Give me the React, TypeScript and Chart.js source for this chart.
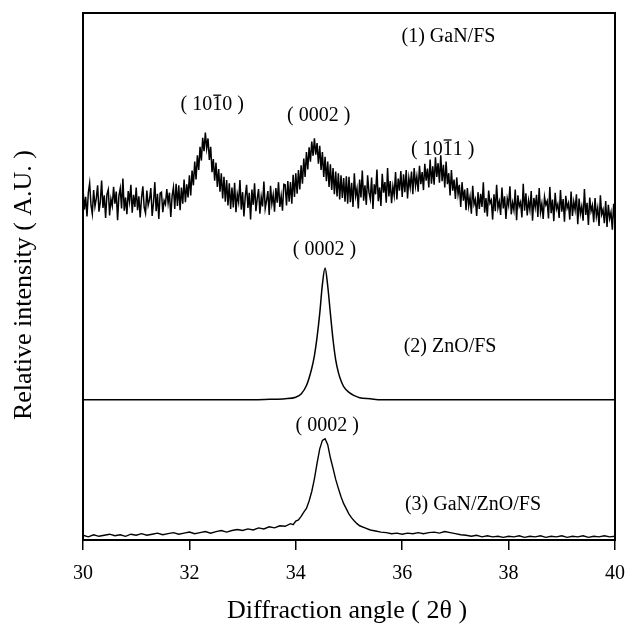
import React, { useEffect, useRef } from "react";
import { Chart, registerables } from "chart.js";

Chart.register(...registerables);

// ---- Data (y in arbitrary units, 0 = bottom of frame, 100 = top) ----
const X_MIN = 30;
const X_MAX = 40;
const xTickStep = 2;

// (1) GaN/FS sampled every 0.025 deg from 30 to 40
const ganStart = 30;
const ganStep = 0.025;
const ganFS = [
  // 30.000 - 31.775
  66.8, 62.7, 65.1, 61.4, 65.9, 67.7, 63.6, 61.9, 66.4, 63.3, 64.8, 67.3, 62.3, 64.1, 68.2, 63.0,
  65.4, 61.1, 65.6, 66.5, 61.6, 64.7, 63.4, 67.0, 63.8, 66.1, 60.7, 65.3, 66.7, 62.9, 68.6, 62.5,
  65.0, 61.8, 66.2, 64.2, 67.4, 62.1, 65.5, 63.2, 66.9, 62.6, 65.2, 61.2, 64.9, 67.1, 63.1, 62.0,
  66.3, 63.5, 64.6, 66.8, 61.5, 64.0, 67.9, 62.4, 65.7, 60.9, 65.8, 66.0, 62.2, 64.4, 63.7, 66.6,
  63.9, 65.9, 61.3, 65.3, 66.9, 62.8, 67.6, 63.4,
  // 31.800 - 32.775 (10-10 peak)
  67.3, 62.6, 66.9, 63.8, 68.4, 64.1, 67.5, 65.0,
  69.2, 65.4, 70.1, 67.3,
  71.8, 68.4, 73.0, 70.2,
  74.6, 72.0, 76.3, 73.8,
  77.3, 74.3, 76.2, 72.1,
  74.6, 69.8, 72.3, 68.2,
  71.6, 67.0, 70.4, 66.1,
  69.6, 64.8, 68.9, 64.2,
  68.3, 63.5, 67.7, 62.8,
  // 32.800 - 33.775
  66.9, 63.1, 67.8, 62.2, 65.6, 64.1, 68.3, 62.7, 66.0, 61.4, 65.2, 67.4, 63.0, 65.9, 60.8, 66.5,
  63.6, 67.7, 62.4, 64.8, 66.6, 61.9, 65.1, 63.3, 68.0, 62.9, 64.4, 66.2, 61.7, 67.2, 63.8, 65.5,
  62.3, 66.8, 64.0, 67.9, 63.2, 65.3, 62.5, 67.5,
  // 33.800 - 34.975 (0002 peak)
  67.4, 63.5, 68.1, 64.2, 67.9, 63.8, 69.3, 65.1,
  69.6, 65.7, 70.2, 66.5, 71.1, 67.6, 72.4, 68.9,
  73.6, 70.3, 74.5, 71.8, 75.6, 72.9, 76.2, 73.1,
  75.3, 71.4, 74.8, 70.2, 73.6, 68.9, 72.7, 68.1,
  71.8, 67.0, 71.3, 66.4, 70.6, 65.6, 69.9, 65.2,
  69.6, 64.6, 69.2, 64.9, 68.7, 64.2, 69.0, 63.8,
  // 35.000 - 35.975
  68.9, 64.1, 67.8, 63.2, 69.6, 65.3, 66.7, 62.9, 68.4, 65.0, 70.1, 64.4, 67.3, 63.6, 69.2, 66.0,
  64.7, 68.8, 62.8, 67.5, 65.6, 70.3, 64.3, 66.9, 63.4, 69.5, 65.9, 67.9, 64.0, 70.6, 65.2, 68.1,
  63.9, 67.1, 65.4, 69.8, 64.6, 68.6, 66.3, 70.0,
  // 36.000 - 37.175 (10-11 hump)
  65.1, 69.4, 66.0, 70.2, 64.8, 68.7, 66.9, 69.9,
  65.6, 70.6, 67.2, 69.0, 66.1, 71.0, 67.5, 69.8,
  66.4, 71.4, 68.2, 70.5, 66.9, 72.2, 67.6, 70.9,
  67.4, 72.6, 68.9, 71.5, 67.8, 73.0, 68.1, 71.2,
  66.9, 71.8, 67.5, 69.6, 65.4, 70.2, 66.3, 68.4,
  64.7, 68.8, 65.6, 67.4, 63.2, 67.9, 64.4, 66.5,
  // 37.200 - 40.000
  62.6, 66.8, 63.4, 65.1, 61.9, 67.2, 63.7, 64.6, 61.5, 66.0, 62.8, 65.7, 63.2, 67.9, 62.1, 64.9,
  61.4, 66.3, 63.9, 64.5, 60.8, 65.6, 62.4, 67.4, 63.0, 64.2, 61.7, 66.9, 62.9, 65.2, 60.9, 64.8,
  63.5, 67.1, 61.8, 64.0, 62.6, 66.5, 60.7, 65.4, 63.3, 64.1, 61.2, 67.6, 62.5, 65.8, 61.6, 64.4,
  62.7, 66.2, 60.6, 64.9, 63.1, 65.5, 61.3, 66.8, 62.2, 63.8, 60.9, 65.1, 63.6, 64.3, 61.0, 67.0,
  62.0, 64.6, 60.5, 65.9, 62.8, 63.7, 61.1, 66.4, 62.3, 64.7, 60.4, 65.3, 63.0, 63.9, 60.8, 66.1,
  61.5, 64.2, 62.6, 65.6, 59.9, 64.8, 61.9, 63.3, 60.6, 66.6, 61.7, 64.0, 59.8, 65.0, 62.4, 63.5,
  60.3, 64.9, 61.4, 63.0, 59.6, 65.4, 61.8, 62.7, 60.1, 64.3, 59.4, 63.6, 61.0, 62.2, 58.9, 63.8, 60.2,
];

// (2) ZnO/FS
const znoX = [
  30, 31, 32, 33, 33.5, 33.8, 34.0, 34.1, 34.2, 34.3, 34.35, 34.4, 34.45, 34.5,
  34.55, 34.6, 34.65, 34.7, 34.75, 34.8, 34.85, 34.9, 35.0, 35.1, 35.2, 35.4,
  35.6, 36, 37, 38, 39, 40,
];
const znoY = [
  26.6, 26.6, 26.6, 26.6, 26.7, 26.8, 27.1, 27.7, 29.3, 32.6, 35.0, 38.5, 43.0, 48.5,
  51.6, 48.2, 43.0, 38.0, 34.2, 31.8, 30.2, 29.1, 28.0, 27.4, 27.0, 26.8,
  26.6, 26.6, 26.6, 26.6, 26.6, 26.6,
];

// (3) GaN/ZnO/FS
const ganZnoX = [
  30.0, 30.1, 30.2, 30.3, 30.4, 30.5, 30.6, 30.7, 30.8, 30.9,
  31.0, 31.1, 31.2, 31.3, 31.4, 31.5, 31.6, 31.7, 31.8, 31.9,
  32.0, 32.1, 32.2, 32.3, 32.4, 32.5, 32.6, 32.7, 32.8, 32.9,
  33.0, 33.1, 33.2, 33.3, 33.4, 33.5, 33.6, 33.7, 33.8, 33.9,
  33.95, 34.0, 34.05, 34.1, 34.15, 34.2, 34.25, 34.3, 34.35, 34.4,
  34.45, 34.5, 34.55, 34.6, 34.65, 34.7, 34.75, 34.8, 34.85, 34.9,
  34.95, 35.0, 35.05, 35.1, 35.15, 35.2,
  35.3, 35.4, 35.5, 35.6, 35.7, 35.8, 35.9, 36.0, 36.1, 36.2,
  36.3, 36.4, 36.5, 36.6, 36.7, 36.8, 36.9, 37.0, 37.1, 37.2,
  37.3, 37.4, 37.5, 37.6, 37.7, 37.8, 37.9, 38.0, 38.1, 38.2,
  38.3, 38.4, 38.5, 38.6, 38.7, 38.8, 38.9, 39.0, 39.1, 39.2,
  39.3, 39.4, 39.5, 39.6, 39.7, 39.8, 39.9, 40.0,
];
const ganZnoY = [
  0.9, 0.6, 1.0, 0.7, 0.9, 1.1, 0.8, 1.0, 0.7, 1.1,
  0.9, 1.2, 0.9, 1.1, 1.3, 1.0, 1.2, 1.4, 1.1, 1.3,
  1.5, 1.2, 1.4, 1.6, 1.3, 1.6, 1.8, 1.5, 1.8, 2.0,
  1.8, 2.1, 1.9, 2.3, 2.1, 2.5, 2.3, 2.7, 2.6, 3.1,
  2.9, 3.6, 3.8, 4.5, 5.3, 6.0, 7.4, 9.2, 11.6, 14.6,
  17.3, 18.9, 19.2, 18.1, 15.6, 13.6, 11.5, 9.8, 8.2, 6.9,
  5.9, 4.9, 4.2, 3.6, 3.1, 2.7,
  2.3, 1.9, 1.7, 1.5, 1.4, 1.2, 1.3, 1.1, 1.3, 1.2,
  1.4, 1.2, 1.4, 1.5, 1.3, 1.6, 1.4, 1.2, 1.0, 0.9,
  0.7, 0.9, 0.6, 0.8, 0.6, 0.7, 0.5, 0.7, 0.6, 0.8,
  0.5, 0.7, 0.6, 0.8, 0.5, 0.7, 0.6, 0.8, 0.5, 0.7,
  0.6, 0.8, 0.5, 0.7, 0.6, 0.8, 0.6, 0.7,
];

// Annotations ({...} marks a digit carrying an overbar)
const labelTexts = [
  "(1) GaN/FS",
  "( 10{1}0 )",
  "( 0002 )",
  "( 10{1}1 )",
  "( 0002 )",
  "(2) ZnO/FS",
  "( 0002 )",
  "(3) GaN/ZnO/FS",
];
const labelX = [36.87, 32.43, 34.43, 36.76, 34.54, 36.9, 34.59, 37.33];
const labelY = [95.5, 82.6, 80.5, 74.1, 55.1, 36.7, 21.7, 6.7];

const xTitle = "Diffraction angle ( 2\u03b8 )";
const yTitle = "Relative intensity ( A.U. )";

const FONT = '"Liberation Serif", "Times New Roman", serif';

function parseSegments(t: string) {
  const segs: { text: string; bar: boolean }[] = [];
  const re = /\{([^}]*)\}/g;
  let last = 0;
  let m: RegExpExecArray | null;
  while ((m = re.exec(t))) {
    if (m.index > last) segs.push({ text: t.slice(last, m.index), bar: false });
    segs.push({ text: m[1], bar: true });
    last = m.index + m[0].length;
  }
  if (last < t.length) segs.push({ text: t.slice(last), bar: false });
  return segs;
}

const annotPlugin = {
  id: "annotations",
  afterDraw(chart: any) {
    const { ctx, chartArea, scales } = chart;
    const xs = scales.x;
    const ys = scales.y;
    ctx.save();
    // frame
    ctx.strokeStyle = "#000";
    ctx.lineWidth = 2;
    ctx.strokeRect(
      chartArea.left,
      chartArea.top,
      chartArea.right - chartArea.left,
      chartArea.bottom - chartArea.top
    );
    // labels
    ctx.fillStyle = "#000";
    ctx.font = `20px ${FONT}`;
    ctx.textBaseline = "middle";
    ctx.textAlign = "left";
    labelTexts.forEach((t, i) => {
      const segs = parseSegments(t);
      const widths = segs.map((s) => ctx.measureText(s.text).width);
      const total = widths.reduce((a, b) => a + b, 0);
      let cx = xs.getPixelForValue(labelX[i]) - total / 2;
      const cy = ys.getPixelForValue(labelY[i]);
      segs.forEach((s, k) => {
        ctx.fillText(s.text, cx, cy);
        if (s.bar) {
          ctx.lineWidth = 1.3;
          ctx.beginPath();
          ctx.moveTo(cx + 1, cy - 9.5);
          ctx.lineTo(cx + widths[k] - 1, cy - 9.5);
          ctx.stroke();
        }
        cx += widths[k];
      });
    });
    // axis titles
    ctx.font = `26px ${FONT}`;
    ctx.textAlign = "center";
    ctx.fillText(xTitle, (chartArea.left + chartArea.right) / 2 - 2, 611);
    ctx.translate(24, 285);
    ctx.rotate(-Math.PI / 2);
    ctx.fillText(yTitle, 0, 0);
    ctx.restore();
  },
};

export default function App() {
  const canvasRef = useRef<HTMLCanvasElement | null>(null);

  useEffect(() => {
    const canvas = canvasRef.current;
    if (!canvas) return;
    const ganPts = ganFS.map((v, i) => ({ x: ganStart + i * ganStep, y: v }));
    const znoPts = znoX.map((x, i) => ({ x, y: znoY[i] }));
    const ganZnoPts = ganZnoX.map((x, i) => ({ x, y: ganZnoY[i] }));

    const chart = new Chart(canvas, {
      type: "line",
      data: {
        datasets: [
          {
            label: "(1) GaN/FS",
            data: ganPts,
            borderColor: "#000",
            borderWidth: 1.5,
            pointRadius: 0,
            tension: 0,
          },
          {
            label: "(2) ZnO/FS",
            data: znoPts,
            borderColor: "#000",
            borderWidth: 1.5,
            pointRadius: 0,
            cubicInterpolationMode: "monotone",
          },
          {
            label: "(3) GaN/ZnO/FS",
            data: ganZnoPts,
            borderColor: "#000",
            borderWidth: 1.4,
            pointRadius: 0,
            tension: 0,
          },
        ],
      },
      options: {
        responsive: false,
        animation: false,
        events: [],
        layout: { padding: { left: 83, top: 13, right: 11, bottom: 0 } },
        plugins: {
          legend: { display: false },
          tooltip: { enabled: false },
          title: { display: false },
        },
        scales: {
          x: {
            type: "linear",
            min: X_MIN,
            max: X_MAX,
            afterFit: (scale: any) => {
              scale.height = 88;
              scale.paddingLeft = 0;
              scale.paddingRight = 0;
            },
            ticks: {
              stepSize: xTickStep,
              color: "#000",
              font: { family: FONT, size: 20 },
              padding: 12,
              maxRotation: 0,
              autoSkip: false,
            },
            grid: {
              drawOnChartArea: false,
              drawTicks: true,
              tickLength: 10,
              color: "#000",
              lineWidth: 1.5,
            },
            border: { display: true, color: "#000", width: 2 },
          },
          y: {
            type: "linear",
            min: 0,
            max: 100,
            display: false,
          },
        },
      },
      plugins: [annotPlugin],
    });
    return () => chart.destroy();
  }, []);

  return (
    <div style={{ position: "absolute", left: 0, top: 0, width: 626, height: 628, background: "#fff" }}>
      <canvas ref={canvasRef} width={626} height={628} style={{ display: "block" }} />
    </div>
  );
}
